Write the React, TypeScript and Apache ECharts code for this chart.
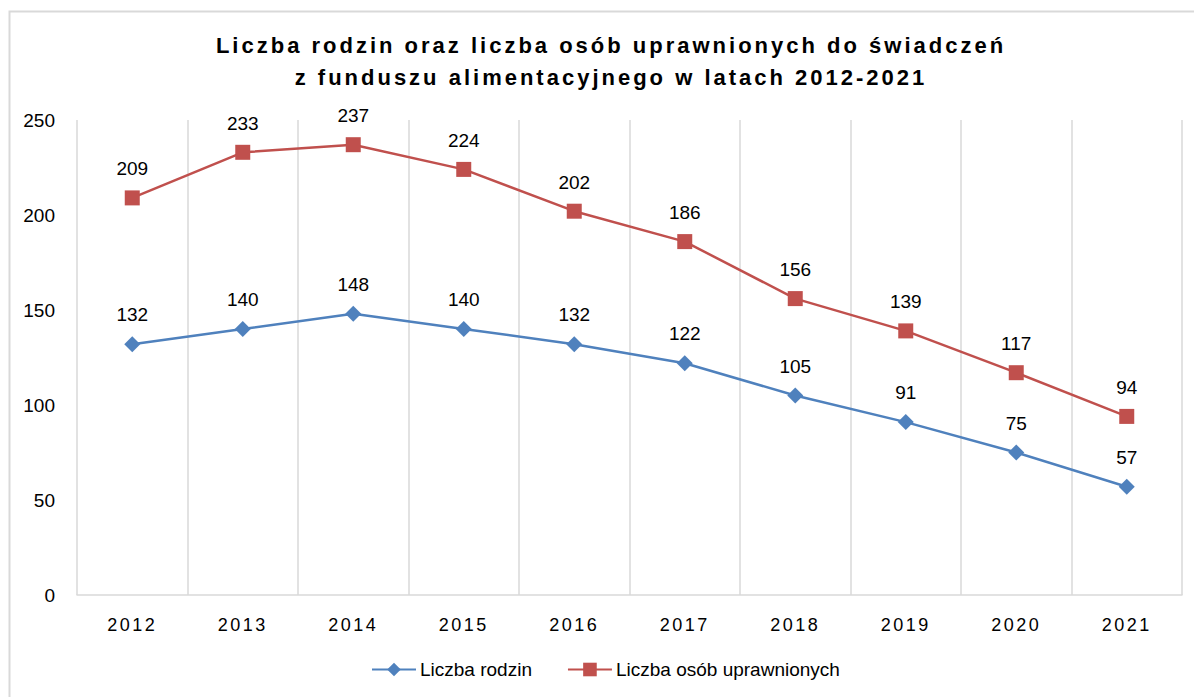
import React, { useEffect, useRef } from "react";
import * as echarts from "echarts";

const years = ["2012", "2013", "2014", "2015", "2016", "2017", "2018", "2019", "2020", "2021"];
const rodziny = [132, 140, 148, 140, 132, 122, 105, 91, 75, 57];
const osoby = [209, 233, 237, 224, 202, 186, 156, 139, 117, 94];
const yTicks = { min: 0, max: 250, interval: 50 };
const titleLines = [
  "Liczba rodzin oraz liczba osób uprawnionych do świadczeń",
  "z funduszu alimentacyjnego w latach 2012-2021",
];

const SANS = "'Liberation Sans', Arial, sans-serif";

const css = `
#chart-box text[style*="22px"] { letter-spacing: 3px; }
#chart-box text[style*="18px"] { letter-spacing: 2.5px; }
`;

export default function App() {
  const ref = useRef<HTMLDivElement>(null);
  useEffect(() => {
    const chart = echarts.init(ref.current!, null, { renderer: "svg" });
    const labelStyle = { show: true, position: "top", distance: 12, fontFamily: SANS, fontSize: 19, color: "#000" };
    chart.setOption({
      animation: false,
      backgroundColor: "#fff",
      graphic: [
        {
          type: "rect",
          shape: { x: 9.5, y: 11.5, width: 1400, height: 900 },
          style: { fill: "none", stroke: "#d9d9d9", lineWidth: 2 },
          silent: true,
        },
      ],
      title: {
        text: titleLines.join("\n"),
        left: 606,
        textAlign: "center",
        top: 24,
        textStyle: {
          fontFamily: SANS,
          fontWeight: "bold",
          fontSize: 22,
          lineHeight: 32,
          color: "#000",
        },
      },
      legend: {
        bottom: 13,
        left: 366,
        itemWidth: 44,
        itemHeight: 17,
        itemGap: 35,
        textStyle: { fontFamily: SANS, fontSize: 19, color: "#000", padding: [0, 0, 0, -1] },
        data: ["Liczba rodzin", "Liczba osób uprawnionych"],
      },
      grid: { left: 77, right: 12, top: 120, bottom: 102, containLabel: false },
      xAxis: {
        type: "category",
        data: years,
        boundaryGap: true,
        axisLine: { show: true, lineStyle: { color: "#d9d9d9", width: 1.5 } },
        axisTick: { show: false },
        splitLine: { show: true, lineStyle: { color: "#d9d9d9", width: 1.5 } },
        axisLabel: { fontFamily: SANS, fontSize: 18, color: "#000", margin: 21 },
      },
      yAxis: {
        type: "value",
        min: yTicks.min,
        max: yTicks.max,
        interval: yTicks.interval,
        axisLine: { show: false },
        axisTick: { show: false },
        splitLine: { show: false },
        axisLabel: { fontFamily: SANS, fontSize: 19, color: "#000", margin: 22 },
      },
      series: [
        {
          name: "Liczba rodzin",
          type: "line",
          data: rodziny,
          symbol: "diamond",
          symbolSize: 16,
          itemStyle: { color: "#4F81BD" },
          lineStyle: { color: "#4F81BD", width: 2.5 },
          label: labelStyle,
        },
        {
          name: "Liczba osób uprawnionych",
          type: "line",
          data: osoby,
          symbol: "rect",
          symbolSize: 15,
          itemStyle: { color: "#C0504D" },
          lineStyle: { color: "#C0504D", width: 2.5 },
          label: labelStyle,
        },
      ],
    });
    return () => chart.dispose();
  }, []);
  return (
    <>
      <style>{css}</style>
      <div id="chart-box" ref={ref} style={{ position: "fixed", left: 0, top: 0, width: 1194, height: 697 }} />
    </>
  );
}
